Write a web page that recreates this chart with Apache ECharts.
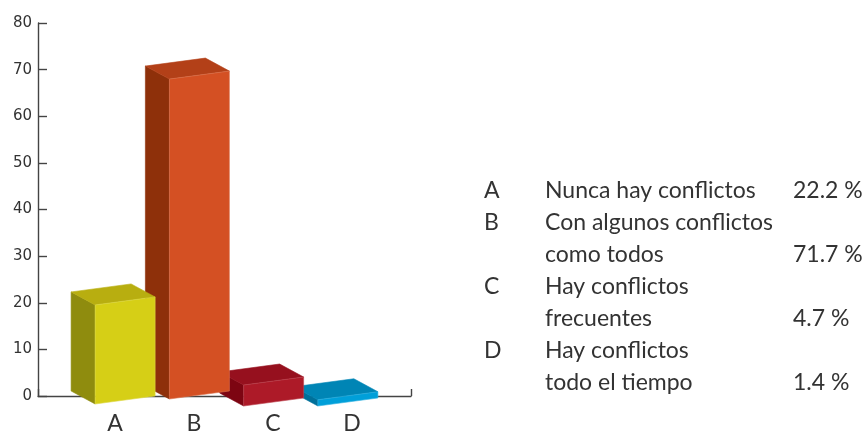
<!DOCTYPE html>
<html>
<head>
<meta charset="utf-8">
<style>html,body{margin:0;background:#fff}#chart{width:864px;height:432px}</style>
<script src="https://cdn.jsdelivr.net/npm/echarts@6/dist/echarts.min.js"></script>
</head>
<body>
<div id="chart"></div>
<script>
const categories = ['A', 'B', 'C', 'D'];
const values = [22.2, 71.7, 4.7, 1.4];
const yTicks = [0, 80, 10];
const legendLetters = ['A', 'B', '', 'C', '', 'D', ''];
const legendLines = ['Nunca hay conflictos', 'Con algunos conflictos', 'como todos', 'Hay conflictos', 'frecuentes', 'Hay conflictos', 'todo el tiempo'];
const legendPercents = ['22.2 %', '', '71.7 %', '', '4.7 %', '', '1.4 %'];

// face colours per bar: front, side, top
const frontColors = ['#d6cf16', '#d45023', '#ad1a28', '#009fd9'];
const sideColors = ['#8f8c0e', '#8e300a', '#7d0512', '#00709a'];
const topColors = ['#b8ae10', '#b34018', '#96101e', '#0085b5'];
// the drawing sits in perspective, bars hang a little below the axis line
const frontDrop = [8, 3, 10, 10];
const heightScale = 0.957;

const font = 'Lato';
const textColor = '#333';

function renderBar(params, api) {
  const i = params.dataIndex;
  const base = api.coord([api.value(0), 0]);
  const h = api.size([0, api.value(1)])[1] * heightScale;
  const fl = base[0] - 30;
  const y = base[1] + frontDrop[i];
  const wx = 60, wy = -8; // front width vector
  const dx = -24, dy = -13; // depth vector
  const face = (points, fill, edge) => ({
    type: 'polygon',
    z2: 10 - i,
    shape: { points },
    style: { fill, stroke: edge, lineWidth: 0.6 }
  });
  const edge = echarts.color.lift(frontColors[i], 0.2);
  return {
    type: 'group',
    children: [
      face([[fl + dx, y + dy], [fl, y], [fl, y - h], [fl + dx, y - h + dy]], sideColors[i], sideColors[i]),
      face([[fl, y - h], [fl + wx, y - h + wy], [fl + wx + dx, y - h + wy + dy], [fl + dx, y - h + dy]], topColors[i], topColors[i]),
      face([[fl, y], [fl + wx, y + wy], [fl + wx, y - h + wy], [fl, y - h]], frontColors[i], edge)
    ]
  };
}

const legendText = (text, x, y) => ({
  type: 'text',
  x,
  y,
  style: { text, fill: textColor, font: '23px ' + font, verticalAlign: 'middle' }
});
const legendElements = [];
legendLines.forEach((line, i) => {
  const y = 191 + i * 32;
  if (legendLetters[i]) legendElements.push(legendText(legendLetters[i], 484, y));
  legendElements.push(legendText(line, 545, y));
  if (legendPercents[i]) legendElements.push(legendText(legendPercents[i], 793, y));
});

const chart = echarts.init(document.getElementById('chart'), null, { renderer: 'canvas' });
chart.setOption({
  animation: false,
  backgroundColor: '#fff',
  grid: [
    { left: 38, width: 373, top: 23, height: 373, outerBoundsMode: 'none' },
    { left: 75.5, width: 316, top: 23, height: 373, outerBoundsMode: 'none' },
    { left: 88, width: 297, top: 23, height: 373, outerBoundsMode: 'none' }
  ],
  xAxis: [
    {
      gridIndex: 0, type: 'value', min: 0, max: 1, interval: 1,
      splitLine: { show: false },
      axisLine: { lineStyle: { color: '#444', width: 1.4 } },
      axisTick: { show: true, inside: true, length: 7, lineStyle: { color: '#444', width: 1.4 } },
      axisLabel: { show: false }
    },
    {
      gridIndex: 1, type: 'category', data: categories,
      axisLine: { show: false }, axisTick: { show: false },
      axisLabel: { color: textColor, fontFamily: font, fontSize: 23, margin: 16 }
    },
    { gridIndex: 2, type: 'category', data: categories, show: false }
  ],
  yAxis: [
    {
      gridIndex: 0, type: 'value', min: yTicks[0], max: yTicks[1], interval: yTicks[2],
      splitLine: { show: false },
      axisLine: { show: true, lineStyle: { color: '#444', width: 1.4 } },
      axisTick: { show: true, inside: true, length: 9, lineStyle: { color: '#444', width: 1.4 } },
      axisLabel: { color: textColor, fontFamily: 'DejaVu Sans', fontSize: 15, margin: 6 }
    },
    { gridIndex: 1, type: 'value', min: yTicks[0], max: yTicks[1], show: false },
    { gridIndex: 2, type: 'value', min: yTicks[0], max: yTicks[1], show: false }
  ],
  series: [{
    type: 'custom',
    xAxisIndex: 2,
    yAxisIndex: 2,
    clip: false,
    renderItem: renderBar,
    encode: { x: 0, y: 1 },
    data: categories.map((c, i) => [i, values[i]])
  }],
  graphic: legendElements
});
</script>
</body>
</html>
